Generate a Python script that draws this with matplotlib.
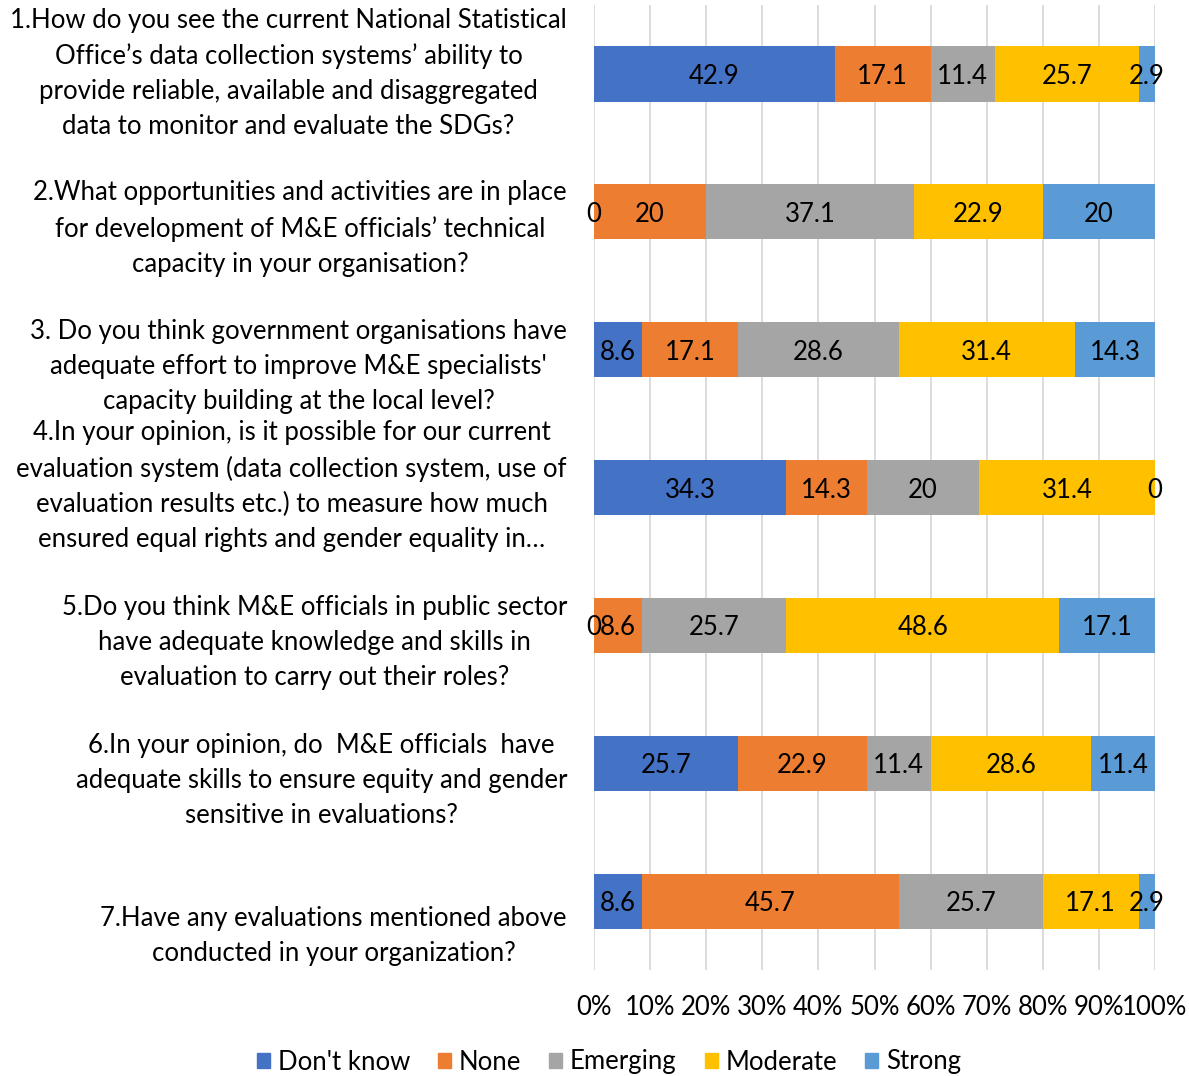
import matplotlib
matplotlib.use("Agg")
import matplotlib.pyplot as plt
import matplotlib.patches as mpatches
import matplotlib.transforms as mtransforms
import numpy as np

plt.rcParams['font.family'] = ['Lato', 'DejaVu Sans']

questions = [
    "1.How do you see the current National Statistical\nOffice\u2019s data collection systems\u2019 ability to\nprovide reliable, available and disaggregated\ndata to monitor and evaluate the SDGs?",
    "2.What opportunities and activities are in place\nfor development of M&E officials\u2019 technical\ncapacity in your organisation?",
    "3. Do you think government organisations have\nadequate effort to improve M&E specialists'\ncapacity building at the local level?",
    "4.In your opinion, is it possible for our current\nevaluation system (data collection system, use of\nevaluation results etc.) to measure how much\nensured equal rights and gender equality in\u2026",
    "5.Do you think M&E officials in public sector\nhave adequate knowledge and skills in\nevaluation to carry out their roles?",
    "6.In your opinion, do  M&E officials  have\nadequate skills to ensure equity and gender\nsensitive in evaluations?",
    "7.Have any evaluations mentioned above\nconducted in your organization?",
]
levels = ["Don't know", "None", "Emerging", "Moderate", "Strong"]
dont_know = [42.9, 0, 8.6, 34.3, 0, 25.7, 8.6]
none = [17.1, 20, 17.1, 14.3, 8.6, 22.9, 45.7]
emerging = [11.4, 37.1, 28.6, 20, 25.7, 11.4, 25.7]
moderate = [25.7, 22.9, 31.4, 31.4, 48.6, 28.6, 17.1]
strong = [2.9, 20, 14.3, 0, 17.1, 11.4, 2.9]
colors = ['#4472C4', '#ED7D31', '#A5A5A5', '#FFC000', '#5B9BD5']

FS = 18.5

series = [dont_know, none, emerging, moderate, strong]
totals = np.sum(series, axis=0)

fig = plt.figure(figsize=(11.89, 10.76), dpi=100)
ax = fig.add_axes([594 / 1189, 1 - 970 / 1076, 561 / 1189, 965 / 1076])

y = np.arange(len(questions))
left = np.zeros(len(questions))
for vals, col, name in zip(series, colors, levels):
    share = np.array(vals) / totals * 100
    ax.barh(y, share, left=left, height=0.4, color=col, label=name, zorder=2)
    # value labels, zeros included (Excel shows them)
    for i, (v, s) in enumerate(zip(vals, share)):
        ax.text(left[i] + s / 2, y[i], f"{v:g}", ha='center', va='center_baseline',
                fontsize=FS, color='black', zorder=3)
    left += share

ax.set_xlim(0, 100)
ax.set_ylim(len(questions) - 0.5, -0.5)
ax.set_xticks(np.arange(0, 101, 10))
ax.set_xticklabels([f"{t}%" for t in range(0, 101, 10)], fontsize=FS)
ax.tick_params(axis='x', length=0, pad=18)
ax.set_yticks([])
ax.grid(True, axis='x', color='#D9D9D9', linewidth=1.3, zorder=0)
for s in ax.spines.values():
    s.set_visible(False)

# question labels, bottom-aligned like the Excel label boxes
trans = mtransforms.blended_transform_factory(ax.transAxes, ax.transData)
for i, q in enumerate(questions):
    ax.text(-27 / 561, y[i] + 0.47, q, transform=trans, ha='right', va='bottom',
            multialignment='center', fontsize=FS, linespacing=1.5)

handles = [mpatches.Patch(color=c, label=l) for c, l in zip(colors, levels)]
fig.legend(handles=handles, loc='center', bbox_to_anchor=(609 / 1189, 1 - 1062 / 1076),
           ncol=5, frameon=False, fontsize=FS, handlelength=0.5, handleheight=0.5,
           handletextpad=0.3, columnspacing=1.1)

fig.savefig("out.png", dpi=100)
